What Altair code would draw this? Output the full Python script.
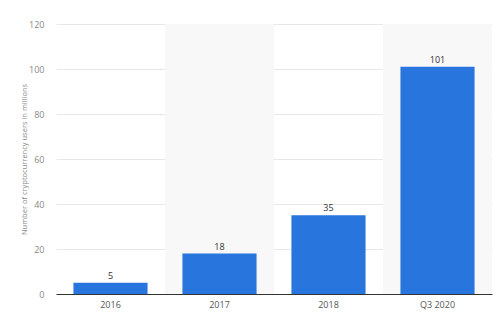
import altair as alt
import pandas as pd

categories = ["2016", "2017", "2018", "Q3 2020"]
values = [5, 18, 35, 101]
y_title = "Number of cryptocurrency users in millions"

df = pd.DataFrame({"cat": categories, "val": values})
shade_df = pd.DataFrame({"cat": categories[1::2]})

x_scale = alt.Scale(domain=categories, paddingInner=0, paddingOuter=0)
x_axis = alt.Axis(title=None, labelAngle=0, labelFont="Open Sans", labelFontSize=9,
                  labelColor="#555555", domainColor="#333333", domainWidth=1,
                  ticks=False, grid=False, labelPadding=6)
x_enc = alt.X("cat:N", scale=x_scale, sort=categories, axis=x_axis)

shade = alt.Chart(shade_df).mark_rect(color="#f8f8f8").encode(
    x=x_enc,
    y=alt.value(0), y2=alt.value(270)
)

bars = alt.Chart(df).mark_bar(color="#2876dd", width={"band": 0.68}).encode(
    x=x_enc,
    y=alt.Y("val:Q", scale=alt.Scale(domain=[0, 120]),
            axis=alt.Axis(title=y_title, values=[0, 20, 40, 60, 80, 100, 120],
                          labelFont="Open Sans", labelFontSize=9, labelColor="#888888",
                          titleFont="Open Sans", titleFontSize=7.5, titleFontWeight="normal",
                          titleColor="#888888", titlePadding=0,
                          domain=False, ticks=False, labelPadding=12,
                          gridColor="#e8e8e8", gridWidth=1))
)

labels = alt.Chart(df).mark_text(dy=-7, font="Open Sans", fontSize=9, color="#333333").encode(
    x=x_enc,
    y="val:Q",
    text="val:Q"
)

chart = alt.layer(shade, bars, labels).properties(
    width=436, height=270,
    background="white",
    padding={"left": 56, "top": 24, "right": 8, "bottom": 22},
    autosize=alt.AutoSizeParams(type="none")
).configure_view(stroke="transparent", strokeWidth=0)

chart.save("out.html", embed_options={"renderer": "svg", "actions": False})
